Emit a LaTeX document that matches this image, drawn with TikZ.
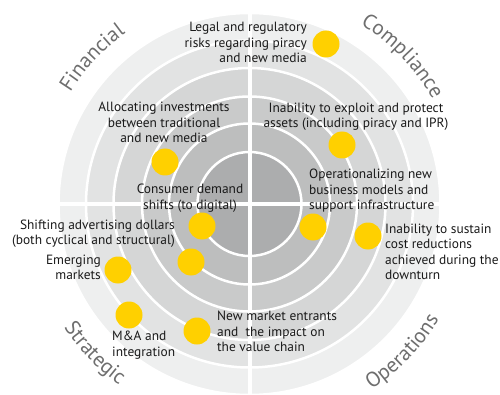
\documentclass[tikz,border=0pt]{standalone}
\usepackage{fontspec}
\setmainfont{PT Sans}
\usetikzlibrary{decorations.text}
\definecolor{ringsix}{RGB}{238,239,239}
\definecolor{ringfive}{RGB}{226,227,227}
\definecolor{ringfour}{RGB}{213,214,214}
\definecolor{ringthree}{RGB}{201,202,202}
\definecolor{ringtwo}{RGB}{189,190,190}
\definecolor{ringone}{RGB}{172,173,174}
\definecolor{riskyellow}{RGB}{255,208,0}
\definecolor{riskblack}{RGB}{26,26,26}
\definecolor{areagray}{RGB}{110,110,110}
\newcommand{\areafont}{\color{areagray}\fontsize{21}{21}\selectfont}
\tikzstyle{ring} = [draw=white, line width=2.5pt]
\tikzstyle{cross} = [draw=white, line width=4pt]
\tikzstyle{dot} = [circle, fill=riskyellow, minimum size=27pt, inner sep=0pt]
\tikzstyle{risk} = [font=\fontsize{13.4}{15.3}\selectfont, text=riskblack, inner sep=0pt]
\tikzstyle{area} = [decorate, decoration={text along path, text align=center}]

\begin{document}
\begin{tikzpicture}[x=1pt, y=1pt]
    \useasboundingbox (0,0) rectangle (500,394);
    \coordinate (C) at (249.5,190);

    % rings, outside in
    \path[ring, fill=ringsix] (C) circle (191pt);
    \path[ring, fill=ringfive] (C) circle (163.5pt);
    \path[ring, fill=ringfour] (C) circle (136pt);
    \path[ring, fill=ringthree] (C) circle (107.5pt);
    \path[ring, fill=ringtwo] (C) circle (80.5pt);
    \path[ring, fill=ringone] (C) circle (52pt);
    \coordinate (top) at ([yshift=191pt]C);
    \coordinate (bottom) at ([yshift=-191pt]C);
    \coordinate (left) at ([xshift=-191pt]C);
    \coordinate (right) at ([xshift=191pt]C);
    \path[cross] (top) -- (bottom);
    \path[cross] (left) -- (right);

    % quadrant names
    \path[area, shift={(C)}, decoration={text={|\areafont|Financial}}]
      (167:211pt) arc[start angle=167, end angle=107, radius=211pt];
    \path[area, shift={(C)}, decoration={text={|\areafont|Compliance}}]
      (74:211pt) arc[start angle=74, end angle=14, radius=211pt];
    \path[area, shift={(C)}, decoration={text={|\areafont|Strategic}}]
      (194:223pt) arc[start angle=194, end angle=254, radius=223pt];
    \path[area, shift={(C)}, decoration={text={|\areafont|Operations}}]
      (286:222pt) arc[start angle=286, end angle=346, radius=222pt];

    % risks
    \node[dot] (legaldot) at (326,350) {};
    \node[dot] (assetsdot) at (342,249) {};
    \node[dot] (investdot) at (165,232) {};
    \node[dot] (consumerdot) at (202,168) {};
    \node[dot] (operationaldot) at (313,167) {};
    \node[dot] (advertisingdot) at (191,132) {};
    \node[dot] (costsdot) at (368,158) {};
    \node[dot] (emergingdot) at (118,124) {};
    \node[dot] (mnadot) at (129,79) {};
    \node[dot] (entrantsdot) at (197,63) {};

    % base anchor sits on the last line
    \node[risk, align=right, anchor=base east] (legal) at (307,331.5)
      {Legal and regulatory\\risks regarding piracy\\and new media};
    \node[risk, align=center, anchor=base] (assets) at (356,266)
      {Inability to exploit and protect\\assets (including piracy and IPR)};
    \node[risk, align=center, anchor=base] (invest) at (164,251.5)
      {Allocating investments\\between traditional\\and new media};
    \node[risk, align=center, anchor=base] (consumer) at (190,185)
      {Consumer demand\\shifts (to digital)};
    \node[risk, align=left, anchor=base west] (operational) at (309,184.5)
      {Operationalizing new\\business models and\\support infrastructure};
    \node[risk, align=right, anchor=base east] (advertising) at (175,149.5)
      {Shifting advertising dollars\\(both cyclical and structural)};
    \node[risk, align=left, anchor=base west] (costs) at (385,114.5)
      {Inability to sustain\\cost reductions\\achieved during the\\downturn};
    \node[risk, align=right, anchor=base east] (emerging) at (101,114.5)
      {Emerging\\markets};
    \node[risk, align=left, anchor=base west] (entrants) at (217,42.5)
      {New market entrants\\and~ the impact on\\the value chain};
    \node[risk, align=left, anchor=base west] (mna) at (112,38)
      {M\&A and\\integration};
\end{tikzpicture}
\end{document}
